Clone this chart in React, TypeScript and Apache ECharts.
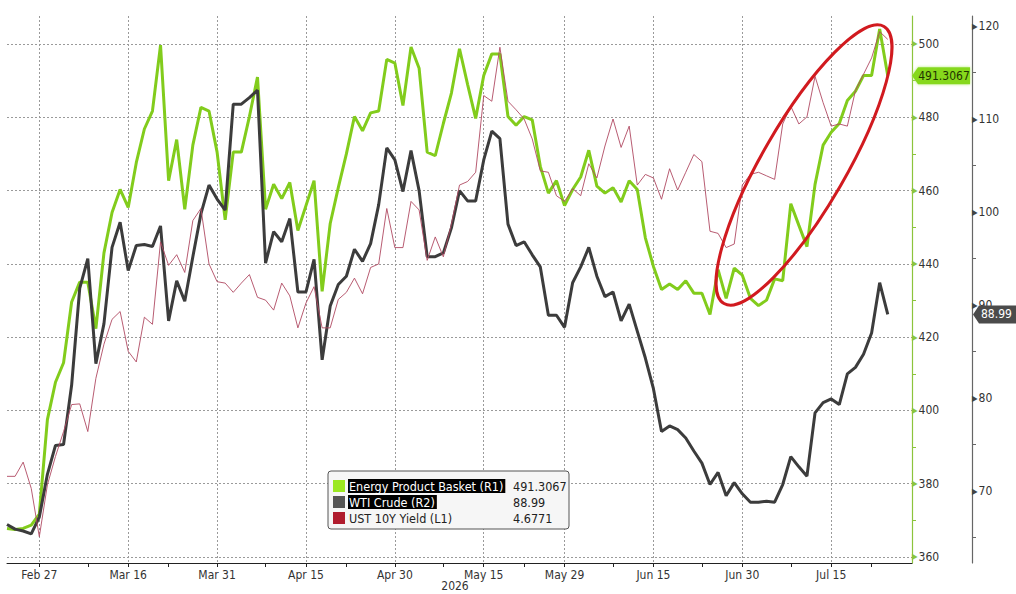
import React, { useEffect, useRef } from "react";
import * as echarts from "echarts";

const categories = [
  "Feb 23", "Feb 24", "Feb 25", "Feb 26", "Feb 27",
  "Mar 2", "Mar 3", "Mar 4", "Mar 5", "Mar 6",
  "Mar 9", "Mar 10", "Mar 11", "Mar 12", "Mar 13",
  "Mar 16", "Mar 17", "Mar 18", "Mar 19", "Mar 20",
  "Mar 23", "Mar 24", "Mar 25", "Mar 26", "Mar 27",
  "Mar 30", "Mar 31", "Apr 1", "Apr 2", "Apr 3",
  "Apr 6", "Apr 7", "Apr 8", "Apr 9", "Apr 10",
  "Apr 13", "Apr 14", "Apr 15", "Apr 16", "Apr 17",
  "Apr 20", "Apr 21", "Apr 22", "Apr 23", "Apr 24",
  "Apr 27", "Apr 28", "Apr 29", "Apr 30", "May 1",
  "May 4", "May 5", "May 6", "May 7", "May 8",
  "May 11", "May 12", "May 13", "May 14", "May 15",
  "May 18", "May 19", "May 20", "May 21", "May 22",
  "May 25", "May 26", "May 27", "May 28", "May 29",
  "Jun 1", "Jun 2", "Jun 3", "Jun 4", "Jun 5",
  "Jun 8", "Jun 9", "Jun 10", "Jun 11", "Jun 12",
  "Jun 15", "Jun 16", "Jun 17", "Jun 18", "Jun 19",
  "Jun 22", "Jun 23", "Jun 24", "Jun 25", "Jun 26",
  "Jun 29", "Jun 30", "Jul 1", "Jul 2", "Jul 3",
  "Jul 6", "Jul 7", "Jul 8", "Jul 9", "Jul 10",
  "Jul 13", "Jul 14", "Jul 15", "Jul 16", "Jul 17",
  "Jul 20", "Jul 21", "Jul 22", "Jul 23", "Jul 24",
  "Jul 27", "Jul 28", "Jul 29",
];

const labelDates = ["Feb 27", "Mar 16", "Mar 31", "Apr 15", "Apr 30", "May 15", "May 29", "Jun 15", "Jun 30", "Jul 15"];
const midTickDates = ["Mar 9", "Mar 23", "Apr 8", "Apr 22", "May 8", "May 22", "Jun 8", "Jun 23", "Jul 8", "Jul 22"];

const energyBasket = [
  367.8, 367.5, 367.8, 368.7, 371.7, 397.5, 407.7, 413.0, 429.6, 435.0,
  435.0, 422.3, 443.0, 454.0, 460.3, 455.4, 467.6, 476.8, 481.7, 499.7,
  462.7, 473.9, 454.9, 472.4, 482.7, 481.7, 470.5, 452.0, 470.5, 470.5,
  480.2, 491.0, 454.9, 461.7, 457.8, 462.2, 449.1, 455.9, 462.7, 432.5,
  451.0, 460.8, 470.0, 480.2, 476.3, 481.2, 481.7, 495.8, 494.8, 483.2,
  499.2, 493.4, 470.5, 469.5, 478.3, 486.6, 498.7, 489.0, 479.7, 491.4,
  497.3, 497.3, 480.2, 477.8, 480.2, 479.3, 466.6, 459.3, 462.7, 455.9,
  460.3, 463.7, 471.0, 461.2, 459.3, 460.8, 456.9, 462.7, 460.3, 447.1,
  439.3, 433.0, 434.5, 433.0, 435.4, 432.0, 432.0, 426.2, 438.4, 430.6,
  438.8, 436.9, 430.6, 428.6, 430.1, 435.9, 435.4, 456.4, 450.5, 444.7,
  461.7, 472.4, 475.9, 478.3, 484.6, 487.1, 491.4, 491.4, 504.1, 491.3067,
];

const wtiCrude = [
  66.4, 65.9, 65.7, 65.4, 67.2, 71.8, 74.9, 75.0, 81.4, 91.8,
  95.0, 83.7, 88.0, 96.2, 98.9, 93.7, 96.4, 96.5, 96.3, 98.5,
  88.3, 92.6, 90.4, 95.2, 99.8, 102.9, 101.4, 100.2, 111.6, 111.6,
  112.3, 113.1, 94.5, 97.9, 96.8, 99.3, 91.4, 91.4, 94.9, 84.1,
  89.9, 92.2, 93.1, 96.0, 94.7, 96.6, 100.8, 106.9, 105.6, 102.2,
  106.6, 102.3, 95.2, 95.2, 95.6, 98.3, 102.3, 101.2, 101.2, 105.6,
  108.7, 107.9, 98.7, 96.4, 96.8, 95.4, 94.1, 88.9, 88.9, 87.6,
  92.4, 94.1, 96.2, 93.1, 90.9, 91.4, 88.3, 90.1, 87.2, 84.3,
  81.0, 76.4, 77.0, 76.6, 75.7, 74.3, 73.0, 70.7, 72.0, 69.5,
  70.9, 69.7, 68.8, 68.8, 68.9, 68.8, 70.7, 73.7, 72.6, 71.6,
  78.4, 79.5, 79.9, 79.3, 82.6, 83.3, 84.7, 87.0, 92.4, 88.99,
];

const ust10y = [
  4.062, 4.062, 4.082, 4.045, 3.977, 4.050, 4.090, 4.125, 4.163, 4.164,
  4.125, 4.200, 4.248, 4.283, 4.294, 4.238, 4.223, 4.286, 4.276, 4.392,
  4.359, 4.374, 4.349, 4.422, 4.439, 4.361, 4.336, 4.334, 4.321, 4.334,
  4.346, 4.314, 4.310, 4.296, 4.334, 4.316, 4.271, 4.306, 4.329, 4.271,
  4.271, 4.311, 4.321, 4.341, 4.319, 4.356, 4.361, 4.439, 4.384, 4.384,
  4.449, 4.437, 4.366, 4.399, 4.371, 4.417, 4.472, 4.477, 4.490, 4.598,
  4.590, 4.666, 4.590, 4.578, 4.565, 4.537, 4.492, 4.490, 4.457, 4.449,
  4.467, 4.457, 4.502, 4.482, 4.527, 4.565, 4.525, 4.555, 4.472, 4.487,
  4.482, 4.452, 4.495, 4.465, 4.490, 4.515, 4.505, 4.407, 4.404, 4.384,
  4.389, 4.472, 4.487, 4.490, 4.485, 4.480, 4.558, 4.583, 4.558, 4.568,
  4.625, 4.588, 4.555, 4.558, 4.555, 4.605, 4.628, 4.651, 4.688, 4.6771,
];

const r1Ticks = [360, 380, 400, 420, 440, 460, 480, 500];
const r1Minor = [370, 390, 410, 430, 450, 470, 490];
const r2Ticks = [70, 80, 90, 100, 110, 120];
const r2Minor = [65, 75, 85, 95, 105, 115];

const seriesNames = ["Energy Product Basket (R1)", "WTI Crude (R2)", "UST 10Y Yield (L1)"];
const yearLabel = "2026";

const GREEN = "#82cc1c";
const GREEN_AXIS = "#8cc43c";
const DARK = "#3c3c3c";
const RED = "#b04a62";
const FONT = "'DejaVu Sans Condensed', 'DejaVu Sans', sans-serif";

export default function App() {
  const ref = useRef<HTMLDivElement>(null);

  useEffect(() => {
    document.body.style.margin = "0";
    const chart = echarts.init(ref.current!, null, { renderer: "svg" });

    const r1 = { min: 358.36, max: 507.64 };
    const r2 = { min: 62.26, max: 121.08 };
    const l1 = { min: 3.94, max: 4.71 };

    chart.setOption({
      animation: false,
      backgroundColor: "#ffffff",
      textStyle: { fontFamily: FONT },
      grid: { left: 7, right: 104, top: 16, bottom: 31, containLabel: false, outerBoundsMode: "none" },
      xAxis: {
        type: "category",
        data: categories,
        boundaryGap: false,
        axisLine: { show: true, lineStyle: { color: "#222", width: 1 } },
        axisTick: {
          show: true,
          length: 4,
          interval: (_i: number, v: string) => labelDates.includes(v) || midTickDates.includes(v),
          lineStyle: { color: "#222" },
        },
        axisLabel: {
          interval: (_i: number, v: string) => labelDates.includes(v),
          color: "#333",
          fontSize: 12,
          margin: 6,
          fontFamily: FONT,
        },
        splitLine: {
          show: true,
          interval: (_i: number, v: string) => labelDates.includes(v),
          lineStyle: { color: "#9a9a9a", type: [2, 2], width: 1 },
        },
      },
      yAxis: [
        {
          type: "value",
          position: "right",
          min: r1.min,
          max: r1.max,
          axisLine: { show: true, lineStyle: { color: GREEN_AXIS, width: 1.2 } },
          axisTick: { show: false, customValues: r1Ticks },
          axisLabel: {
            customValues: r1Ticks,
            margin: 0,
            formatter: (v: number) => `{t|▶}{v|${Math.round(v)}}`,
            rich: {
              t: { color: GREEN_AXIS, fontSize: 8, padding: [0, 1, 0, 0] },
              v: { color: "#333", fontSize: 12, fontFamily: FONT },
            },
          },
          splitLine: { show: true, lineStyle: { color: "#9a9a9a", type: [2, 2], width: 1 } },
        },
        {
          type: "value",
          position: "right",
          offset: 60,
          min: r2.min,
          max: r2.max,
          axisLine: { show: true, lineStyle: { color: "#666", width: 1.2 } },
          axisTick: { show: false, customValues: r2Ticks },
          axisLabel: {
            customValues: r2Ticks,
            margin: 0,
            formatter: (v: number) => `{t|▶}{v|${Math.round(v)}}`,
            rich: {
              t: { color: "#444", fontSize: 8, padding: [0, 1, 0, 0] },
              v: { color: "#333", fontSize: 12, fontFamily: FONT },
            },
          },
          splitLine: { show: false },
        },
        {
          type: "value",
          position: "left",
          min: l1.min,
          max: l1.max,
          show: false,
          splitLine: { show: false },
        },
        {
          type: "value",
          position: "right",
          min: r1.min,
          max: r1.max,
          axisLine: { show: false },
          axisTick: { show: true, customValues: r1Minor, length: 4, lineStyle: { color: GREEN_AXIS } },
          axisLabel: { show: false },
          splitLine: { show: false },
        },
        {
          type: "value",
          position: "right",
          offset: 60,
          min: r2.min,
          max: r2.max,
          axisLine: { show: false },
          axisTick: { show: true, customValues: r2Minor, length: 4, lineStyle: { color: "#666" } },
          axisLabel: { show: false },
          splitLine: { show: false },
        },
      ],
      series: [
        {
          name: seriesNames[0],
          type: "line",
          yAxisIndex: 0,
          data: energyBasket,
          symbol: "none",
          lineStyle: { color: GREEN, width: 3 },
          z: 2,
        },
        {
          name: seriesNames[1],
          type: "line",
          yAxisIndex: 1,
          data: wtiCrude,
          symbol: "none",
          lineStyle: { color: DARK, width: 3 },
          z: 3,
        },
        {
          name: seriesNames[2],
          type: "line",
          yAxisIndex: 2,
          data: ust10y,
          symbol: "none",
          lineStyle: { color: RED, width: 0.9 },
          z: 4,
        },
      ],
    });

    const lastE = energyBasket[energyBasket.length - 1];
    const lastW = wtiCrude[wtiCrude.length - 1];
    const lastY = ust10y[ust10y.length - 1];
    const yE = chart.convertToPixel({ yAxisIndex: 0 }, lastE) as number;
    const yW = chart.convertToPixel({ yAxisIndex: 1 }, lastW) as number;

    const legendRows = [
      { name: seriesNames[0], value: String(lastE), color: "#9be822", hi: true },
      { name: seriesNames[1], value: lastW.toFixed(2), color: "#555555", hi: true },
      { name: seriesNames[2], value: String(lastY), color: "#b01c2e", hi: false },
    ];

    const legendChildren: any[] = [
      {
        type: "rect",
        shape: { x: 0, y: 0, width: 241, height: 58, r: 3 },
        style: { fill: "#f6f6f6", stroke: "#555", lineWidth: 1 },
      },
    ];
    legendRows.forEach((row, i) => {
      const cy = 15 + i * 16;
      legendChildren.push({
        type: "rect",
        shape: { x: 5, y: cy - 6, width: 12, height: 12 },
        style: { fill: row.color },
      });
      legendChildren.push({
        type: "text",
        x: 20,
        y: cy,
        style: {
          text: row.name,
          fontSize: 12.5,
          fontFamily: FONT,
          fill: row.hi ? "#ffffff" : "#222",
          backgroundColor: row.hi ? "#000000" : "transparent",
          padding: [1, 2, 0, 1],
          verticalAlign: "middle",
        },
      });
      legendChildren.push({
        type: "text",
        x: 185,
        y: cy,
        style: {
          text: row.value,
          fontSize: 12.5,
          fontFamily: FONT,
          fill: "#222",
          verticalAlign: "middle",
        },
      });
    });

    chart.setOption({
      graphic: [
        {
          type: "text",
          x: 455,
          y: 586,
          style: {
            text: yearLabel,
            fontSize: 12,
            fontFamily: FONT,
            fill: "#333",
            align: "center",
            verticalAlign: "middle",
          },
        },
        {
          type: "ellipse",
          x: 804,
          y: 165,
          rotation: Math.PI / 3,
          shape: { cx: 0, cy: 0, rx: 160, ry: 42 },
          style: { fill: "none", stroke: "#d11a1f", lineWidth: 3 },
          z: 10,
        },
        {
          type: "group",
          x: 328,
          y: 471,
          z: 20,
          children: legendChildren,
        },
        {
          type: "polygon",
          shape: {
            points: [
              [912, yE],
              [918, yE - 8.5],
              [970, yE - 8.5],
              [970, yE + 8.5],
              [918, yE + 8.5],
            ],
          },
          style: { fill: "#86d81e", shadowBlur: 3, shadowColor: "#b8f070" },
          z: 20,
        },
        {
          type: "text",
          x: 944,
          y: yE,
          style: {
            text: String(lastE),
            fontSize: 12,
            fontFamily: FONT,
            fill: "#1f3300",
            align: "center",
            verticalAlign: "middle",
          },
          z: 21,
        },
        {
          type: "polygon",
          shape: {
            points: [
              [973, yW],
              [979, yW - 9],
              [1016, yW - 9],
              [1016, yW + 9],
              [979, yW + 9],
            ],
          },
          style: { fill: "#4b4b4b" },
          z: 20,
        },
        {
          type: "text",
          x: 981,
          y: yW,
          style: {
            text: lastW.toFixed(2),
            fontSize: 12,
            fontFamily: FONT,
            fill: "#ffffff",
            align: "left",
            verticalAlign: "middle",
          },
          z: 21,
        },
      ],
    });

    return () => chart.dispose();
  }, []);

  return <div ref={ref} style={{ width: 1016, height: 594 }} />;
}
